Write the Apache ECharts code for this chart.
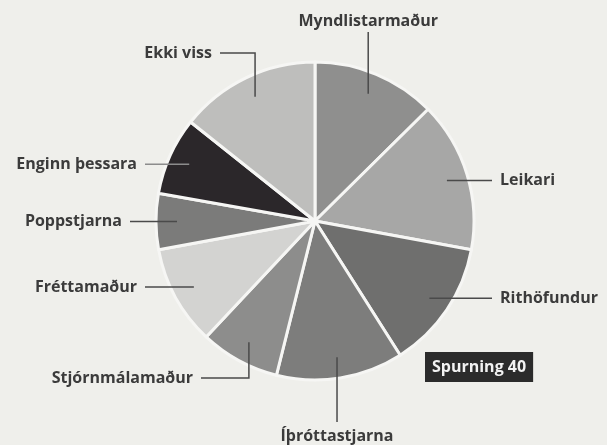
<!DOCTYPE html>
<html>
<head>
<meta charset="utf-8">
<script src="https://cdn.jsdelivr.net/npm/echarts@6/dist/echarts.min.js"></script>
<style>
  html, body { margin: 0; padding: 0; background: #efefeb; }
  #chart { width: 607px; height: 445px; }
</style>
</head>
<body>
<div id="chart"></div>
<script>
// hlutfall (%) af svörum, lesið af myndinni, réttsælis frá kl. 12
const categories = ['Myndlistarmaður', 'Leikari', 'Rithöfundur', 'Íþróttastjarna', 'Stjórnmálamaður',
  'Fréttamaður', 'Poppstjarna', 'Enginn þessara', 'Ekki viss'];
const shares = [12.6, 15.3, 13.1, 12.9, 8.1, 10.1, 5.7, 7.9, 14.3];

const sliceColors = ['#8f8f8e', '#a7a7a6', '#6f6f6e', '#7d7d7c', '#8d8d8c',
  '#d3d3d1', '#7b7b7a', '#2b272a', '#bebebc'];

// hvar hver merking situr (v = lóðrétt lína, h = lárétt, elbow = beygð)
const labelPlacement = {
  'Myndlistarmaður': { type: 'v', y: 21 },
  'Leikari': { type: 'h', x: 500 },
  'Rithöfundur': { type: 'h', x: 500 },
  'Íþróttastjarna': { type: 'v', y: 436 },
  'Stjórnmálamaður': { type: 'elbow', x: 193, y: 378 },
  'Fréttamaður': { type: 'h', x: 137 },
  'Poppstjarna': { type: 'h', x: 122 },
  'Enginn þessara': { type: 'h', x: 137 },
  'Ekki viss': { type: 'elbow', x: 212, y: 53 }
};

const chart = echarts.init(document.getElementById('chart'));

const center = [315, 221];
const gap = 8;

const pieData = categories.map((name, i) => ({
  name: name,
  value: shares[i],
  itemStyle: { color: sliceColors[i] }
}));

const labelData = categories.map((name, i) => {
  const item = { name: name, value: shares[i] };
  if (name === 'Enginn þessara') {
    item.labelLine = { lineStyle: { color: '#8c8c8c' } };
  }
  return item;
});

chart.setOption({
  backgroundColor: '#efefeb',
  animation: false,
  title: {
    text: 'Spurning 40',
    left: 425,
    top: 352,
    padding: [5, 7],
    backgroundColor: '#2b2b2b',
    textStyle: {
      color: '#f2f2f2',
      fontFamily: 'Open Sans',
      fontWeight: 'bold',
      fontSize: 16,
      lineHeight: 20
    }
  },
  series: [
    {
      name: 'sneiðar',
      type: 'pie',
      center: center,
      radius: 159,
      startAngle: 90,
      silent: true,
      label: { show: false },
      labelLine: { show: false },
      itemStyle: { borderColor: '#f6f6f4', borderWidth: 3 },
      data: pieData
    },
    {
      name: 'merkingar',
      type: 'pie',
      center: center,
      radius: 138,
      startAngle: 90,
      silent: true,
      z: 3,
      avoidLabelOverlap: false,
      itemStyle: { color: 'rgba(0,0,0,0)', borderWidth: 0 },
      label: {
        show: true,
        position: 'outer',
        formatter: '{b}',
        color: '#3b3b3b',
        fontFamily: 'Open Sans',
        fontWeight: 'bold',
        fontSize: 16
      },
      labelLine: {
        show: true,
        length: 10,
        length2: 10,
        lineStyle: { color: '#4a4a4a', width: 1.5 }
      },
      labelLayout: function (params) {
        const name = categories[params.dataIndex];
        const p = labelPlacement[name];
        const a = params.labelLinePoints[0];
        if (p.type === 'h') {
          const isLeft = p.x < a[0];
          const endX = isLeft ? p.x + gap : p.x - gap;
          return {
            x: p.x, y: a[1],
            align: isLeft ? 'right' : 'left',
            verticalAlign: 'middle',
            labelLinePoints: [a, [endX, a[1]], [endX, a[1]]]
          };
        }
        if (p.type === 'v') {
          const isTop = p.y < a[1];
          const endY = isTop ? p.y + 11 : p.y - 14;
          return {
            x: a[0], y: p.y,
            align: 'center',
            verticalAlign: 'middle',
            labelLinePoints: [a, [a[0], endY], [a[0], endY]]
          };
        }
        // beygð lína: lóðrétt frá sneið, svo lárétt að texta
        return {
          x: p.x, y: p.y,
          align: 'right',
          verticalAlign: 'middle',
          labelLinePoints: [a, [a[0], p.y], [p.x + gap, p.y]]
        };
      },
      data: labelData
    }
  ]
});
</script>
</body>
</html>
